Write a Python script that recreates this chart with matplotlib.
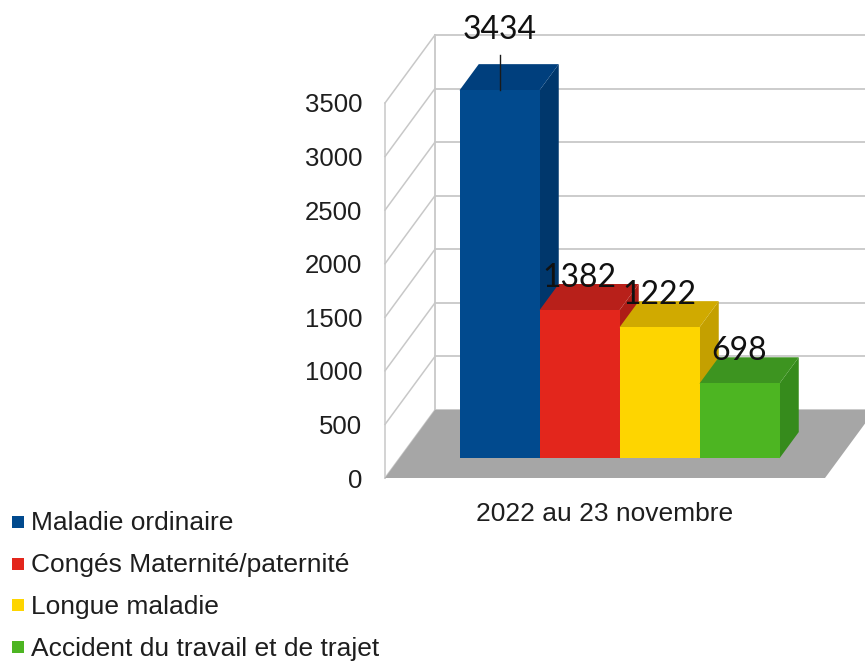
import matplotlib
matplotlib.use('Agg')
import matplotlib.pyplot as plt
from matplotlib.patches import Polygon, Rectangle

# Data
series = ["Maladie ordinaire", "Congés Maternité/paternité",
          "Longue maladie", "Accident du travail et de trajet"]
values = [3434, 1382, 1222, 698]
category = "2022 au 23 novembre"
y_ticks = [0, 500, 1000, 1500, 2000, 2500, 3000, 3500]

# front / top / side shades per series
front_colors = ["#014a8e", "#e3261c", "#fed500", "#4db522"]
top_colors = ["#003f7d", "#b8201a", "#d0aa00", "#3d9420"]
side_colors = ["#00376c", "#ae1d16", "#c4a000", "#368b1c"]

# oblique depth offset (full depth) in data units
DX = 0.625
DV = 635.0
D0, D1 = 0.29, 0.675  # bar depth range
XMIN, XMAX = -0.75, 4.75
grid_col = "#c8c8c8"


def proj(x, v, d):
    return (x + d * DX, v + d * DV)


W, H = 865, 670
fig = plt.figure(figsize=(W / 100, H / 100), dpi=100)
ax = fig.add_axes([385 / W, (H - 478) / H, 440 / W, 375 / H])
ax.set_xlim(XMIN, XMAX)
ax.set_ylim(0, 3500)
for s in ax.spines.values():
    s.set_visible(False)

# walls: back wall gridlines + left wall diagonals
for v in y_ticks:
    bx, by = proj(XMIN, v, 1)
    ax.plot([bx, XMAX + 3], [by, by], color=grid_col, lw=1.3, clip_on=False, zorder=1)
    ax.plot([XMIN, bx], [v, by], color=grid_col, lw=1.1, clip_on=False, zorder=1)
bx0, by0 = proj(XMIN, 0, 1)
bx1, by1 = proj(XMIN, y_ticks[-1], 1)
ax.plot([bx0, bx1], [by0, by1], color=grid_col, lw=1.3, clip_on=False, zorder=1)
ax.plot([XMIN, XMIN], [0, y_ticks[-1]], color=grid_col, lw=1.1, clip_on=False, zorder=1)

# floor
floor = [proj(XMIN, 0, 0), proj(XMAX, 0, 0), proj(XMAX, 0, 1), proj(XMIN, 0, 1)]
ax.add_patch(Polygon(floor, closed=True, facecolor="#a6a6a6", edgecolor="none",
                     clip_on=False, zorder=2))

# bars
for i, v in enumerate(values):
    x0, x1 = i, i + 1
    z = 3 + i
    front = [proj(x0, 0, D0), proj(x1, 0, D0), proj(x1, v, D0), proj(x0, v, D0)]
    top = [proj(x0, v, D0), proj(x1, v, D0), proj(x1, v, D1), proj(x0, v, D1)]
    side = [proj(x1, 0, D0), proj(x1, 0, D1), proj(x1, v, D1), proj(x1, v, D0)]
    ax.add_patch(Polygon(side, closed=True, facecolor=side_colors[i], edgecolor="none",
                         clip_on=False, zorder=z))
    ax.add_patch(Polygon(top, closed=True, facecolor=top_colors[i], edgecolor="none",
                         clip_on=False, zorder=z))
    ax.add_patch(Polygon(front, closed=True, facecolor=front_colors[i], edgecolor="none",
                         clip_on=False, zorder=z))

# value labels
for i, v in enumerate(values):
    cx, cy = proj(i + 0.5, v, D0)
    off = 300
    if i == 0:
        off = 560
        ax.plot([cx, cx], [cy, cy + 327], color="#1a1a1a", lw=1.0, clip_on=False, zorder=10)
    ax.text(cx, cy + off, str(v), ha="center", va="center", fontsize=23,
            family="Lato", color="#111111", clip_on=False, zorder=11)

# axis ticks
ax.set_yticks(y_ticks)
ax.set_yticklabels([str(t) for t in y_ticks])
ax.tick_params(axis="y", length=0, pad=16.5, labelsize=18.5, labelcolor="#1e1e1e")
ax.set_xticks([(XMIN + XMAX) / 2])
ax.set_xticklabels([category])
ax.tick_params(axis="x", length=0, pad=17, labelsize=19, labelcolor="#1e1e1e")
for lab in ax.get_xticklabels() + ax.get_yticklabels():
    lab.set_family("Liberation Sans")

# legend
for i, (lab, col) in enumerate(zip(series, front_colors)):
    yc = 522 + 41.7 * i
    fig.patches.append(Rectangle((12 / W, 1 - (yc + 6) / H), 12 / W, 12 / H,
                                 transform=fig.transFigure, facecolor=col, edgecolor="none"))
    fig.text(31 / W, 1 - (yc + 8.5) / H, lab, ha="left", va="baseline", fontsize=19,
             family="Liberation Sans", color="#1e1e1e")

fig.savefig("out.png", dpi=100)
